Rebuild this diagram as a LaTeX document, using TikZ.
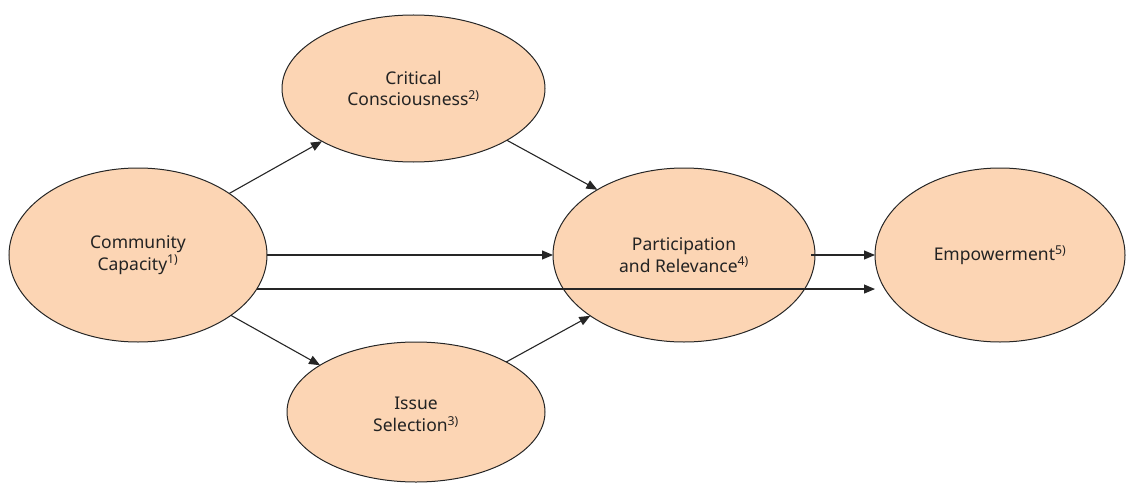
\documentclass[tikz,border=0pt]{standalone}
\usepackage{fontspec}
\setmainfont{Noto Sans}
\usetikzlibrary{shapes.geometric,arrows.meta}
\definecolor{peach}{RGB}{252,213,180}
\definecolor{txt}{RGB}{35,35,35}
\begin{document}
\begin{tikzpicture}[x=1pt,y=-1pt,
  bubble/.style={ellipse,draw=black!85,line width=1pt,fill=peach,inner sep=0pt,outer sep=0pt,
    align=center,text=txt,font=\fontsize{17.5}{21.5}\selectfont},
  arr/.style={-{Triangle[length=11pt,width=9pt]},line width=1.1pt,draw=black!85}]
\useasboundingbox (0,0) rectangle (1126,484);
\node[bubble,minimum width=258pt,minimum height=174pt] (cc) at (138,255) {Community\\Capacity\textsuperscript{1)}};
\node[bubble,minimum width=263pt,minimum height=147pt] (cr) at (413.5,88.5) {Critical\\Consciousness\textsuperscript{2)}};
\node[bubble,minimum width=258pt,minimum height=140pt] (is) at (416,412) {\\[-4pt]Issue\\Selection\textsuperscript{3)}};
\node[bubble,minimum width=262pt,minimum height=174pt] (pr) at (684,255) {Participation\\and Relevance\textsuperscript{4)}};
\node[bubble,minimum width=250pt,minimum height=174pt] (em) at (1000,255) {Empowerment\textsuperscript{5)}};
\draw[arr] (cc.34) -- (cr.210);
\draw[arr] (cc.-33.4) -- (is.154);
\draw[arr] (cr.-29) -- (pr.143.3);
\draw[arr] (is.29) -- (pr.213);
\draw[arr] (cc.east) -- (pr.west);
\draw[arr] (cc.-16) -- (cc.-16 -| em.west);
\draw[arr] ([xshift=-4pt]pr.east) -- (em.west);
\end{tikzpicture}
\end{document}
